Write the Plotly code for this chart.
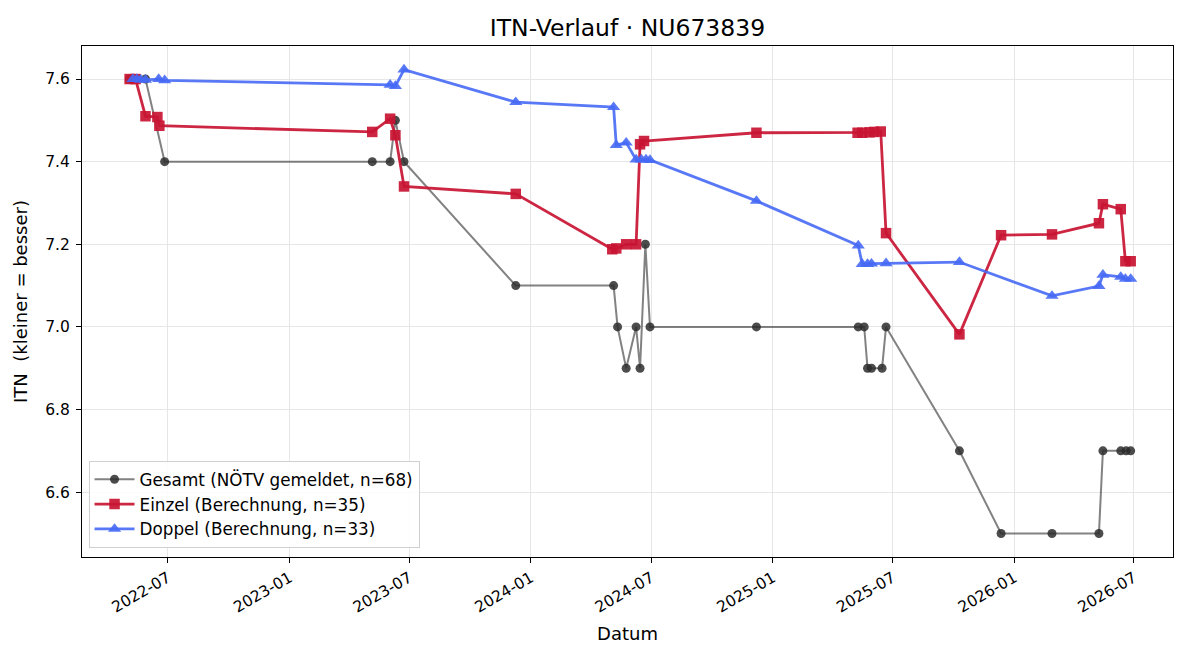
import plotly.graph_objects as go

# ---- data ----
gesamt_dates = ["2022-05-04", "2022-05-09", "2022-05-15", "2022-05-28", "2022-06-26",
                "2023-05-06", "2023-06-02", "2023-06-10", "2023-06-23", "2023-12-09",
                "2024-05-05", "2024-05-11", "2024-05-24", "2024-06-08", "2024-06-14",
                "2024-06-22", "2024-06-29", "2024-12-07", "2025-05-10", "2025-05-19",
                "2025-05-24", "2025-05-30", "2025-06-15", "2025-06-21", "2025-10-10",
                "2025-12-12", "2026-02-27", "2026-05-09", "2026-05-15", "2026-06-11",
                "2026-06-19", "2026-06-26"]
gesamt_values = [7.6, 7.6, 7.6, 7.6, 7.4,
                 7.4, 7.4, 7.5, 7.4, 7.1,
                 7.1, 7.0, 6.9, 7.0, 6.9,
                 7.2, 7.0, 7.0, 7.0, 7.0,
                 6.9, 6.9, 6.9, 7.0, 6.7,
                 6.5, 6.5, 6.5, 6.7, 6.7,
                 6.7, 6.7]

einzel_dates = ["2022-05-04", "2022-05-13", "2022-05-28", "2022-06-15", "2022-06-18",
                "2023-05-06", "2023-06-02", "2023-06-10", "2023-06-23", "2023-12-09",
                "2024-05-03", "2024-05-09", "2024-05-24", "2024-06-08", "2024-06-14",
                "2024-06-20", "2024-12-07", "2025-05-09", "2025-05-16", "2025-05-27",
                "2025-06-03", "2025-06-13", "2025-06-21", "2025-10-10", "2025-12-12",
                "2026-02-27", "2026-05-09", "2026-05-15", "2026-06-11", "2026-06-18",
                "2026-06-26"]
einzel_values = [7.6, 7.6, 7.51, 7.508, 7.487,
                 7.472, 7.504, 7.464, 7.34, 7.322,
                 7.188, 7.19, 7.2, 7.2, 7.442,
                 7.45, 7.47, 7.47, 7.47, 7.471,
                 7.472, 7.473, 7.227, 6.982, 7.222,
                 7.224, 7.251, 7.297, 7.285, 7.159,
                 7.159]

doppel_dates = ["2022-05-09", "2022-05-15", "2022-05-21", "2022-05-28", "2022-06-17",
                "2022-06-26", "2023-06-02", "2023-06-10", "2023-06-23", "2023-12-09",
                "2024-05-05", "2024-05-09", "2024-05-24", "2024-06-08", "2024-06-16",
                "2024-06-23", "2024-06-29", "2024-12-07", "2025-05-10", "2025-05-16",
                "2025-05-24", "2025-05-30", "2025-06-21", "2025-10-10", "2026-02-27",
                "2026-05-09", "2026-05-15", "2026-06-11", "2026-06-18", "2026-06-26"]
doppel_values = [7.6, 7.6, 7.598, 7.598, 7.6,
                 7.597, 7.586, 7.583, 7.623, 7.544,
                 7.532, 7.44, 7.446, 7.405, 7.405,
                 7.405, 7.404, 7.305, 7.197, 7.152,
                 7.152, 7.153, 7.154, 7.157, 7.075,
                 7.099, 7.126, 7.121, 7.116, 7.116]

names = ["Gesamt (NÖTV gemeldet, n=68)", "Einzel (Berechnung, n=35)", "Doppel (Berechnung, n=33)"]
y_ticks = [6.6, 6.8, 7.0, 7.2, 7.4, 7.6]
x_ticks = ["2022-07-01", "2023-01-01", "2023-07-01", "2024-01-01", "2024-07-01",
           "2025-01-01", "2025-07-01", "2026-01-01", "2026-07-01"]
x_tick_text = ["2022-07", "2023-01", "2023-07", "2024-01", "2024-07",
               "2025-01", "2025-07", "2026-01", "2026-07"]

FONT = "DejaVu Sans"

fig = go.Figure()
fig.add_trace(go.Scatter(
    x=gesamt_dates, y=gesamt_values, name=names[0], mode="lines+markers",
    line=dict(color="rgba(60,60,60,0.64)", width=2),
    marker=dict(symbol="circle", size=9, color="rgba(45,45,45,0.85)",
                line=dict(width=0))))
fig.add_trace(go.Scatter(
    x=einzel_dates, y=einzel_values, name=names[1], mode="lines+markers",
    line=dict(color="rgba(200,20,50,0.92)", width=2.8),
    marker=dict(symbol="square", size=10.5, color="rgba(200,20,50,0.92)",
                line=dict(width=0))))
fig.add_trace(go.Scatter(
    x=doppel_dates, y=doppel_values, name=names[2], mode="lines+markers",
    line=dict(color="rgba(70,105,245,0.9)", width=2.8),
    marker=dict(symbol="triangle-up", size=11.5, color="rgba(70,105,245,0.9)",
                line=dict(width=0))))

fig.update_layout(
    width=1200, height=660,
    margin=dict(l=82, r=27, t=46, b=103),
    paper_bgcolor="white", plot_bgcolor="white",
    font=dict(family=FONT, size=15, color="black"),
    title=dict(text="ITN-Verlauf · NU673839", xref="paper", x=0.5, xanchor="center",
               y=0.958, yanchor="middle", font=dict(family=FONT, size=23.5)),
    showlegend=True,
    legend=dict(x=0.006, y=0.018, xanchor="left", yanchor="bottom",
                bgcolor="rgba(255,255,255,0.85)", bordercolor="#d0d0d0", borderwidth=1,
                font=dict(family=FONT, size=16.8), itemwidth=40),
)
fig.update_xaxes(
    type="date", range=["2022-02-21", "2026-08-29"],
    tickmode="array", tickvals=x_ticks, ticktext=x_tick_text, tickangle=-30,
    showgrid=True, gridcolor="#e6e6e6", gridwidth=1,
    showline=True, linecolor="black", linewidth=1, mirror=True,
    ticks="outside", ticklen=5, tickcolor="black",
    tickfont=dict(family=FONT, size=15.5),
    title=dict(text="Datum", font=dict(family=FONT, size=18), standoff=11),
    zeroline=False,
)
fig.update_yaxes(
    range=[6.443, 7.68],
    tickmode="array", tickvals=y_ticks, ticktext=[f"{v:.1f}" for v in y_ticks],
    showgrid=True, gridcolor="#e6e6e6", gridwidth=1,
    showline=True, linecolor="black", linewidth=1, mirror=True,
    ticks="outside", ticklen=5, tickcolor="black",
    tickfont=dict(family=FONT, size=15.5), ticklabelstandoff=3,
    title=dict(text="ITN\u00a0 (kleiner = besser)", font=dict(family=FONT, size=18), standoff=12),
    zeroline=False,
)

fig.write_html("out.html")
